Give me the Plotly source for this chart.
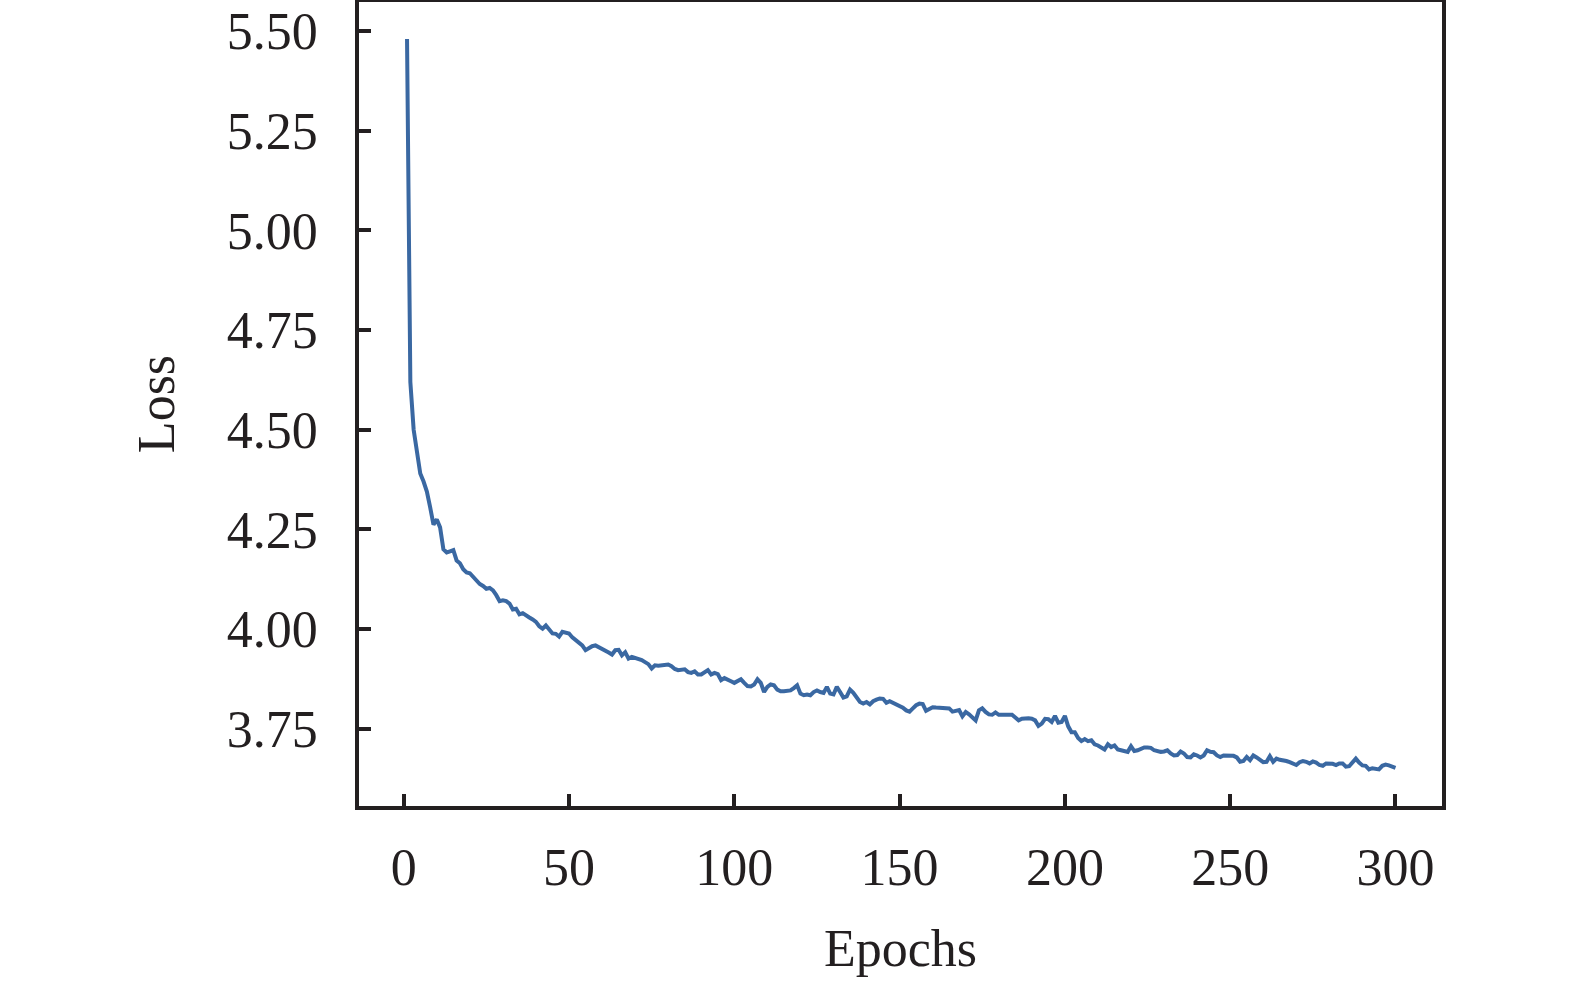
import plotly.graph_objects as go

# training loss per epoch
epochs = list(range(1, 301))
loss = [
    5.480, 4.620, 4.500, 4.440, 4.390, 4.370, 4.345, 4.305, 4.262, 4.275,  # 1-10
    4.255, 4.200, 4.192, 4.195, 4.198, 4.172, 4.165, 4.150, 4.142, 4.140,  # 11-20
    4.130, 4.120, 4.113, 4.108, 4.101, 4.103, 4.097, 4.085, 4.070, 4.072,  # 21-30
    4.070, 4.064, 4.049, 4.051, 4.037, 4.040, 4.033, 4.029, 4.024, 4.018,  # 31-40
    4.007, 4.001, 4.009, 3.999, 3.989, 3.988, 3.981, 3.993, 3.991, 3.989,  # 41-50
    3.979, 3.972, 3.965, 3.959, 3.947, 3.953, 3.957, 3.959, 3.955, 3.951,  # 51-60
    3.947, 3.941, 3.936, 3.947, 3.948, 3.934, 3.942, 3.926, 3.930, 3.928,  # 61-70
    3.924, 3.922, 3.917, 3.912, 3.901, 3.909, 3.908, 3.909, 3.910, 3.911,  # 71-80
    3.907, 3.900, 3.897, 3.897, 3.899, 3.892, 3.890, 3.894, 3.886, 3.886,  # 81-90
    3.892, 3.897, 3.886, 3.890, 3.887, 3.872, 3.877, 3.874, 3.869, 3.865,  # 91-100
    3.870, 3.874, 3.865, 3.857, 3.856, 3.861, 3.874, 3.865, 3.842, 3.855,  # 101-110
    3.861, 3.859, 3.848, 3.844, 3.844, 3.846, 3.846, 3.852, 3.859, 3.838,  # 111-120
    3.834, 3.836, 3.834, 3.842, 3.846, 3.842, 3.840, 3.855, 3.838, 3.836,  # 121-130
    3.855, 3.842, 3.828, 3.831, 3.848, 3.840, 3.830, 3.817, 3.813, 3.817,  # 131-140
    3.811, 3.819, 3.823, 3.826, 3.825, 3.815, 3.819, 3.815, 3.809, 3.806,  # 141-150
    3.803, 3.796, 3.793, 3.801, 3.809, 3.813, 3.812, 3.795, 3.800, 3.804,  # 151-160
    3.803, 3.802, 3.801, 3.801, 3.801, 3.793, 3.796, 3.797, 3.781, 3.792,  # 161-170
    3.786, 3.778, 3.771, 3.796, 3.801, 3.792, 3.786, 3.785, 3.791, 3.785,  # 171-180
    3.785, 3.787, 3.786, 3.785, 3.778, 3.771, 3.775, 3.776, 3.776, 3.775,  # 181-190
    3.771, 3.757, 3.763, 3.775, 3.774, 3.767, 3.782, 3.765, 3.767, 3.782,  # 191-200
    3.756, 3.741, 3.741, 3.727, 3.719, 3.724, 3.719, 3.721, 3.711, 3.708,  # 201-210
    3.704, 3.698, 3.711, 3.704, 3.708, 3.698, 3.696, 3.694, 3.692, 3.706,  # 211-220
    3.694, 3.696, 3.700, 3.703, 3.703, 3.702, 3.696, 3.693, 3.692, 3.693,  # 221-230
    3.696, 3.688, 3.683, 3.684, 3.693, 3.688, 3.679, 3.678, 3.686, 3.683,  # 231-240
    3.678, 3.683, 3.696, 3.692, 3.691, 3.683, 3.679, 3.683, 3.683, 3.683,  # 241-250
    3.682, 3.678, 3.667, 3.669, 3.679, 3.671, 3.683, 3.678, 3.672, 3.666,  # 251-260
    3.667, 3.681, 3.667, 3.675, 3.672, 3.671, 3.669, 3.666, 3.663, 3.659,  # 261-270
    3.666, 3.669, 3.667, 3.663, 3.668, 3.665, 3.659, 3.657, 3.663, 3.663,  # 271-280
    3.662, 3.659, 3.663, 3.663, 3.655, 3.656, 3.665, 3.675, 3.665, 3.658,  # 281-290
    3.657, 3.648, 3.651, 3.649, 3.648, 3.657, 3.660, 3.658, 3.654, 3.652,  # 291-300
]

x_ticks = [0, 50, 100, 150, 200, 250, 300]
y_ticks = [3.75, 4.00, 4.25, 4.50, 4.75, 5.00, 5.25, 5.50]
y_ticklabels = [f"{v:.2f}" for v in y_ticks]

ink = "#231f20"
font = dict(family="Liberation Serif", size=52, color=ink)

fig = go.Figure()
fig.add_trace(go.Scatter(x=epochs, y=loss, mode="lines",
                         line=dict(color="#3a68a2", width=4), showlegend=False))

axis_style = dict(showgrid=False, zeroline=False, showline=True, linecolor=ink, linewidth=3.5,
                  mirror=True, ticks="inside", ticklen=12, tickwidth=3.5, tickcolor=ink,
                  tickfont=font, automargin=False)
fig.update_xaxes(range=[-13.53, 314.07], tickvals=x_ticks,
                 title=dict(text="Epochs", font=font, standoff=35),
                 ticklabelstandoff=13, **axis_style)
fig.update_yaxes(range=[3.5562, 5.5727], tickvals=y_ticks, ticktext=y_ticklabels,
                 title=dict(text="Loss", font=font, standoff=37),
                 ticklabelstandoff=27, **axis_style)
fig.update_layout(width=1575, height=981, margin=dict(l=359, r=133, t=2, b=175),
                  paper_bgcolor="white", plot_bgcolor="white", font=font)
# drop the browser's default 8px body margin so the figure sits at the page corner
fig.write_html("out.html", config={"displayModeBar": False},
               post_script="document.body.style.margin='0';")
